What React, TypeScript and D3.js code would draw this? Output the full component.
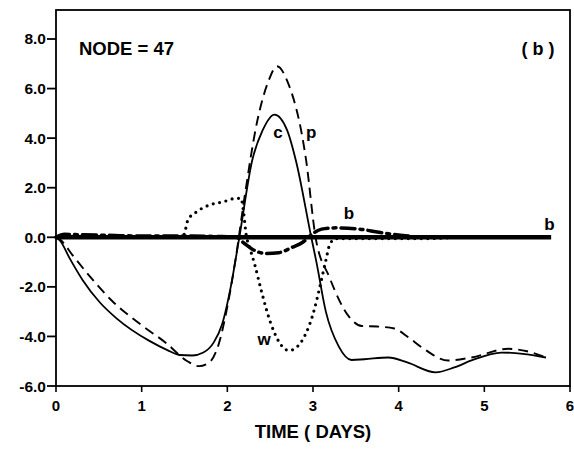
import React from "react";
import * as d3 from "d3";

// ---- data ----
const xTicks = [0, 1, 2, 3, 4, 5, 6];
const yTicks = [8, 6, 4, 2, 0, -2, -4, -6];
const yTickLabels = ["8.0", "6.0", "4.0", "2.0", "0.0", "-2.0", "-4.0", "-6.0"];

// solid curve "c"
const cT = [0, 0.05, 0.16, 0.31, 0.51, 0.71, 1.09, 1.3, 1.44, 1.59, 1.72, 1.84, 1.94, 2.04, 2.14, 2.29, 2.41, 2.55, 2.7, 2.8, 2.98, 3.04, 3.15, 3.3, 3.45, 3.6, 3.88, 4.1, 4.43, 4.65, 4.85, 5.2, 5.45, 5.72];
const cV = [0, -0.15, -0.85, -1.72, -2.62, -3.28, -4.18, -4.55, -4.75, -4.77, -4.65, -4.25, -3.5, -2.0, 0, 3.1, 4.3, 4.95, 4.3, 3.1, 0, -1.0, -3.0, -4.4, -4.95, -4.92, -4.85, -5.05, -5.45, -5.25, -4.97, -4.65, -4.7, -4.85];

// dashed curve "p"
const pT = [0, 0.05, 0.2, 0.4, 0.65, 1.0, 1.29, 1.52, 1.67, 1.79, 1.9, 2.0, 2.1, 2.2, 2.35, 2.48, 2.58, 2.7, 2.92, 3.03, 3.19, 3.42, 3.57, 3.75, 3.95, 4.1, 4.27, 4.58, 4.85, 5.28, 5.5, 5.72];
const pV = [0, -0.1, -0.75, -1.6, -2.55, -3.55, -4.28, -4.97, -5.2, -5.05, -4.3, -2.8, -0.8, 1.6, 4.7, 6.3, 6.9, 6.3, 3.1, 0, -1.6, -3.2, -3.58, -3.6, -3.68, -4.0, -4.44, -4.97, -4.85, -4.5, -4.6, -4.85];

// dotted curve "w"
const wT = [0, 0.5, 1.0, 1.48, 1.5, 1.54, 1.63, 1.79, 1.95, 2.1, 2.16, 2.19, 2.22, 2.26, 2.32, 2.4, 2.5, 2.6, 2.72, 2.82, 2.9, 3.0, 3.08, 3.15, 3.2, 3.27, 3.6, 4.0, 4.4, 4.7, 5.0, 5.72];
const wV = [0, 0, 0, 0, 0.16, 0.7, 1.0, 1.3, 1.43, 1.57, 1.57, 1.0, 0.1, -0.4, -1.1, -2.2, -3.4, -4.2, -4.57, -4.4, -4.0, -3.1, -2.0, -0.93, -0.25, -0.05, -0.05, -0.05, -0.05, 0, 0, 0];

// dash-dot curve "b"
const bT = [0, 0.1, 0.3, 0.6, 1.0, 1.5, 1.9, 2.1, 2.2, 2.3, 2.45, 2.6, 2.76, 2.88, 2.98, 3.1, 3.27, 3.54, 3.77, 4.08, 4.3, 5.72];
const bV = [0, 0.12, 0.1, 0.08, 0.05, 0.05, 0.03, 0, -0.25, -0.5, -0.65, -0.62, -0.4, -0.2, 0.1, 0.33, 0.38, 0.33, 0.2, 0.06, 0, 0];

// thick zero line
const zT = [0, 5.78];
const zV = [0, 0];

const curveLabels = [
  { text: "c", t: 2.59, v: 4.0 },
  { text: "p", t: 2.98, v: 4.0 },
  { text: "b", t: 3.42, v: 0.75 },
  { text: "b", t: 5.76, v: 0.3 },
  { text: "w", t: 2.43, v: -4.35 },
];

export default function App() {
  const W = 574, H = 449;
  const left = 56, right = 570, top = 10, bottom = 386;
  const x = d3.scaleLinear().domain([0, 6]).range([left, right]);
  const y = d3.scaleLinear().domain([-6, 9.17]).range([bottom, top]);
  const mk = (ts: number[], vs: number[]) =>
    d3.line<number>().x((_, i) => x(ts[i])).y((_, i) => y(vs[i])).curve(d3.curveMonotoneX)(ts) || "";
  const font = "'Liberation Sans', Arial, sans-serif";
  return (
    <svg width={W} height={H} style={{ position: "absolute", left: 0, top: 0, background: "#fff" }}>
      <rect x={0} y={0} width={W} height={H} fill="#fff" />
      {/* frame */}
      <rect x={left} y={top} width={right - left} height={bottom - top} fill="none" stroke="#000" strokeWidth={1.8} />
      {/* y ticks */}
      {yTicks.map((v, i) => (
        <g key={"y" + i}>
          <line x1={left - 9} x2={left} y1={y(v)} y2={y(v)} stroke="#000" strokeWidth={1.8} />
          <text x={left - 10} y={y(v) + 5.5} textAnchor="end" fontFamily={font} fontWeight="bold" fontSize={15.5}>{yTickLabels[i]}</text>
        </g>
      ))}
      {/* x ticks */}
      {xTicks.map((t, i) => (
        <g key={"x" + i}>
          <line x1={x(t)} x2={x(t)} y1={bottom} y2={bottom + 6} stroke="#000" strokeWidth={1.6} />
          <text x={x(t)} y={bottom + 25} textAnchor="middle" fontFamily={font} fontWeight="bold" fontSize={15}>{t}</text>
        </g>
      ))}
      <text x={313} y={438} textAnchor="middle" fontFamily={font} fontWeight="bold" fontSize={18.5}>TIME ( DAYS)</text>
      <text x={79} y={55} fontFamily={font} fontWeight="bold" fontSize={18.5}>NODE = 47</text>
      <text x={538} y={55} textAnchor="middle" fontFamily={font} fontWeight="bold" fontSize={18}>( b )</text>
      {/* curves */}
      <path d={mk(zT, zV)} fill="none" stroke="#000" strokeWidth={4.5} />
      <path d={mk(bT, bV)} fill="none" stroke="#000" strokeWidth={3.5} strokeDasharray="14 5 3 5" strokeLinecap="round" />
      <path d={mk(wT, wV)} fill="none" stroke="#000" strokeWidth={3.2} strokeDasharray="0 6.5" strokeLinecap="round" />
      <path d={mk(pT, pV)} fill="none" stroke="#000" strokeWidth={1.9} strokeDasharray="10 6" />
      <path d={mk(cT, cV)} fill="none" stroke="#000" strokeWidth={1.8} />
      {curveLabels.map((l, i) => (
        <text key={"l" + i} x={x(l.t)} y={y(l.v)} textAnchor="middle" fontFamily={font} fontWeight="bold" fontSize={17}>{l.text}</text>
      ))}
    </svg>
  );
}
